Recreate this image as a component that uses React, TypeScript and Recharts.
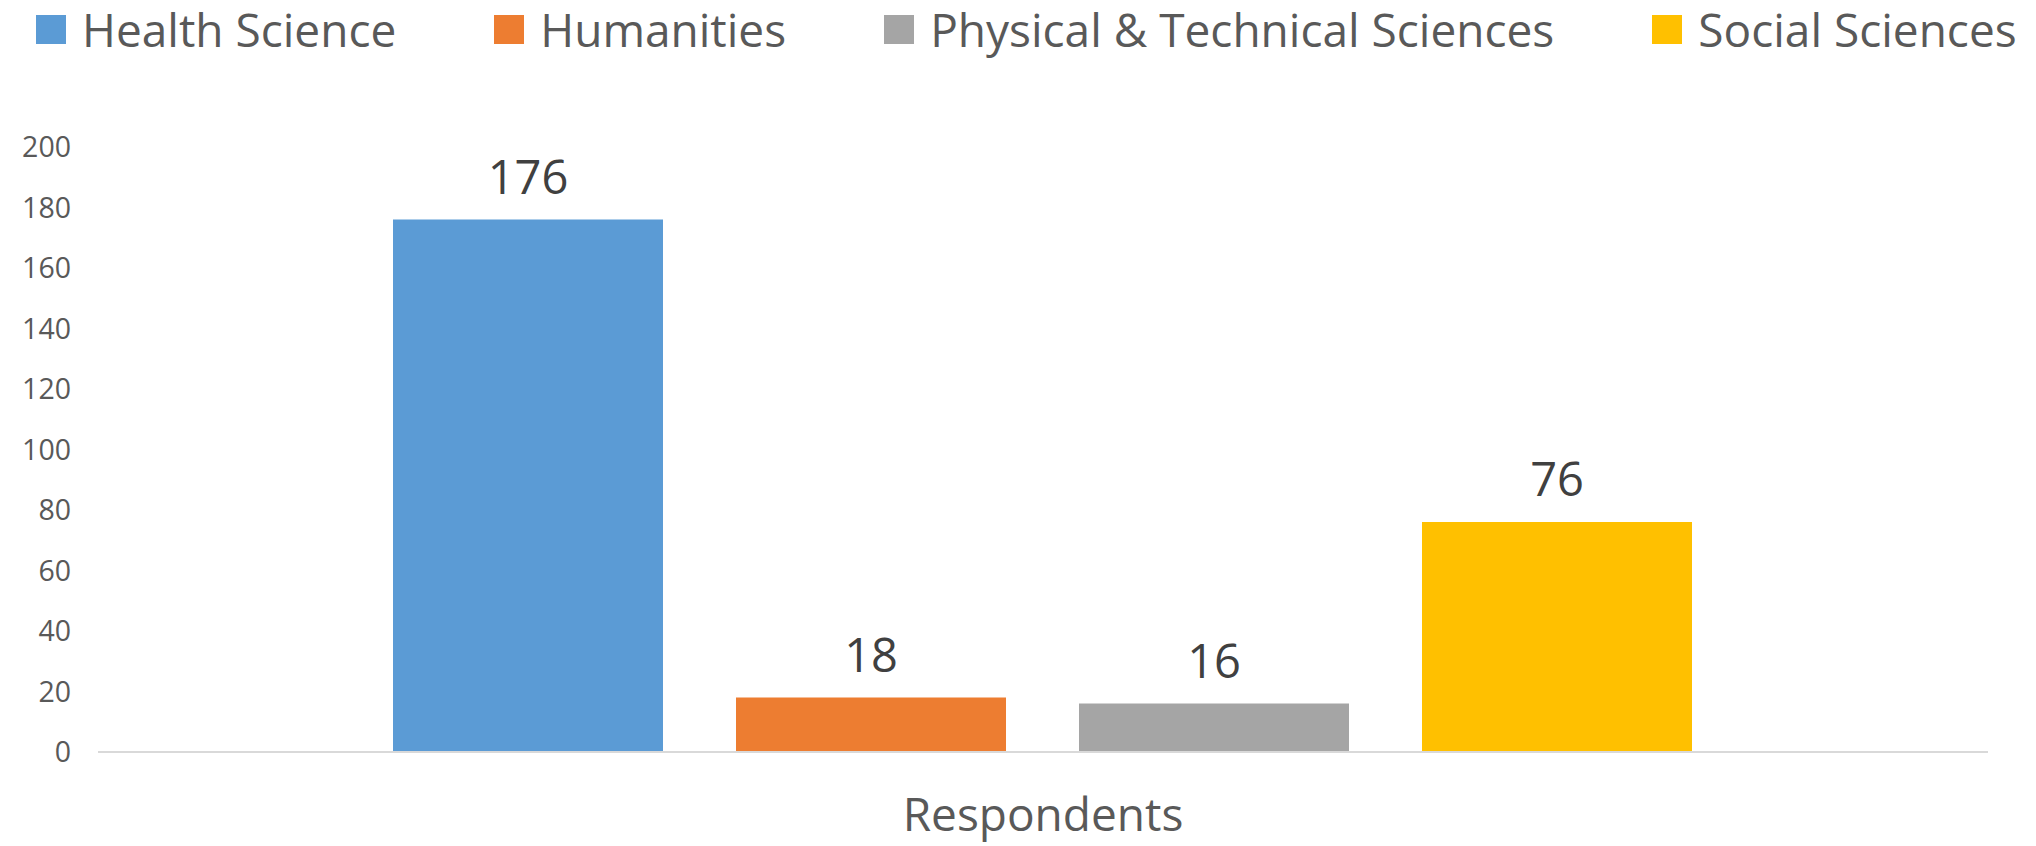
import { BarChart, Bar, XAxis, YAxis, Legend, LabelList } from 'recharts';

const categories = ['Respondents'];
const seriesNames = ['Health Science', 'Humanities', 'Physical & Technical Sciences', 'Social Sciences'];
const healthScience = [176];
const humanities = [18];
const physicalTechnical = [16];
const socialSciences = [76];
const yTicks = [0, 20, 40, 60, 80, 100, 120, 140, 160, 180, 200];

const COLORS = ['#5B9BD5', '#ED7D31', '#A5A5A5', '#FFC000'];
const KEYS = ['health', 'humanities', 'physical', 'social'];
const FONT = '"Open Sans", sans-serif';

const data = categories.map((name, i) => ({
  name,
  health: healthScience[i],
  humanities: humanities[i],
  physical: physicalTechnical[i],
  social: socialSciences[i],
}));

function renderLegend(props: any) {
  const items = props.payload ?? [];
  return (
    <div
      style={{
        display: 'flex',
        alignItems: 'flex-start',
        height: 60,
        paddingLeft: 36,
        gap: 98,
        fontFamily: FONT,
      }}
    >
      {items.map((item: any) => (
        <div key={item.value} style={{ display: 'flex', alignItems: 'flex-start' }}>
          <span
            style={{
              width: 30,
              height: 29,
              marginTop: 15,
              background: item.color,
              marginRight: 16,
              display: 'inline-block',
            }}
          />
          <span style={{ fontSize: 46, color: '#595959', lineHeight: '59px', whiteSpace: 'nowrap' }}>
            {item.value}
          </span>
        </div>
      ))}
    </div>
  );
}

export default function App() {
  return (
    <div style={{ position: 'absolute', left: 0, top: 0, width: 2036, height: 846, background: '#fff' }}>
      <BarChart
        width={2036}
        height={846}
        data={data}
        margin={{ top: 87, right: 48, bottom: 0, left: 0 }}
        barCategoryGap={295}
        barGap={73}
      >
        <XAxis
          dataKey="name"
          height={94}
          tickSize={0}
          tickMargin={46}
          tickLine={false}
          axisLine={{ stroke: '#D9D9D9', strokeWidth: 2 }}
          tick={{ fontSize: 46, fill: '#595959', fontFamily: FONT }}
        />
        <YAxis
          width={98}
          domain={[0, 200]}
          ticks={yTicks}
          interval={0}
          tickSize={0}
          tickMargin={27}
          axisLine={false}
          tickLine={false}
          tick={{ fontSize: 28.5, fill: '#595959', fontFamily: FONT }}
        />
        <Legend verticalAlign="top" align="left" content={renderLegend} wrapperStyle={{ top: 0, left: 0, width: 2036, height: 60 }} />
        {KEYS.map((k, i) => (
          <Bar key={k} dataKey={k} name={seriesNames[i]} fill={COLORS[i]} isAnimationActive={false}>
            <LabelList dataKey={k} position="top" offset={26} fill="#404040" fontSize={47} fontFamily={FONT} />
          </Bar>
        ))}
      </BarChart>
    </div>
  );
}
